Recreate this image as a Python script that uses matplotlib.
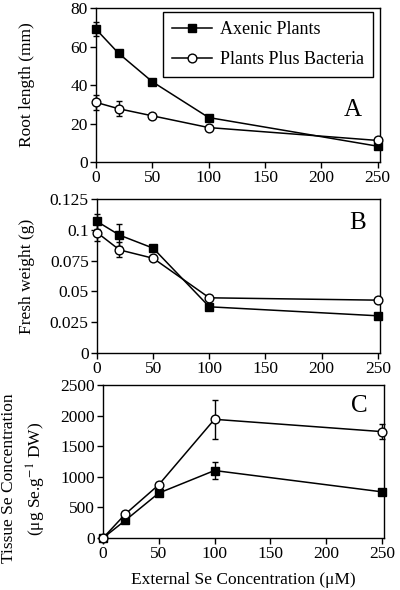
import matplotlib
matplotlib.use("Agg")
from matplotlib import pyplot as plt
from matplotlib.lines import Line2D
from matplotlib.ticker import FuncFormatter

plt.rcParams['font.family'] = ['Liberation Serif', 'DejaVu Serif']
plt.rcParams['mathtext.fontset'] = 'stix'

# external Se concentration (uM)
conc = [0, 20, 50, 100, 250]

# panel A: root length (mm)
root_axenic = [69, 56.5, 41.7, 23.1, 8.2]
root_axenic_err = [3.7, 0, 0, 0, 0]
root_bact = [31, 27.7, 24, 17.9, 11.2]
root_bact_err = [4, 4, 0, 0, 0]

# panel B: fresh weight (g)
fw_axenic = [0.1068, 0.0957, 0.0851, 0.0375, 0.0302]
fw_axenic_err = [0.006, 0.009, 0, 0, 0]
fw_bact = [0.0978, 0.0837, 0.0769, 0.0448, 0.0429]
fw_bact_err = [0.007, 0.006, 0, 0, 0]

# panel C: tissue Se concentration (ug Se/g DW)
se_axenic = [0, 288, 734, 1103, 755]
se_axenic_err = [0, 0, 0, 140, 0]
se_bact = [0, 391, 870, 1940, 1739]
se_bact_err = [0, 0, 0, 320, 120]

xticks = [0, 50, 100, 150, 200, 250]
FS = 12.5


def panel(ax, ya, ea, yb, eb, ylim, yticks, letter, letter_pos):
    ax.errorbar(conc, ya, yerr=ea, color='black', marker='s', markersize=6.3,
                markerfacecolor='black', linewidth=1.1, elinewidth=1, capsize=2.5,
                clip_on=False, zorder=3)
    ax.errorbar(conc, yb, yerr=eb, color='black', marker='o', markersize=6.3,
                markerfacecolor='white', linewidth=1.1, elinewidth=1, capsize=2.5,
                clip_on=False, zorder=4)
    ax.set_xlim(0, 252)
    ax.set_ylim(*ylim)
    ax.set_xticks(xticks)
    ax.set_yticks(yticks)
    ax.yaxis.set_major_formatter(FuncFormatter(lambda v, p: '%g' % v))
    ax.tick_params(direction='out', length=4, width=1, labelsize=FS, pad=2)
    for s in ax.spines.values():
        s.set_linewidth(1)
    ax.text(letter_pos[0], letter_pos[1], letter, fontsize=18, ha='center', va='center')


fig = plt.figure(figsize=(4, 5.9), dpi=100)

ax1 = fig.add_axes([0.24, 0.7254, 0.71, 0.261])
panel(ax1, root_axenic, root_axenic_err, root_bact, root_bact_err,
      (0, 80), [0, 20, 40, 60, 80], 'A', (228, 27))
ax1.set_ylabel('Root length (mm)', fontsize=FS)
ax1.yaxis.set_label_coords(-0.215, 0.5)
handles = [
    Line2D([], [], color='black', marker='s', markersize=6.3, linewidth=1.1,
           markerfacecolor='black'),
    Line2D([], [], color='black', marker='o', markersize=6.3, linewidth=1.1,
           markerfacecolor='white'),
]
leg = ax1.legend(handles, ['Axenic Plants', 'Plants Plus Bacteria'],
                 loc='upper right', bbox_to_anchor=(0.975, 0.974), borderaxespad=0,
                 fancybox=False, edgecolor='black', framealpha=1, fontsize=13,
                 handlelength=2.2, handletextpad=0.45, borderpad=0.5,
                 labelspacing=0.72)
leg.get_frame().set_linewidth(1)

ax2 = fig.add_axes([0.2425, 0.4017, 0.7075, 0.261])
panel(ax2, fw_axenic, fw_axenic_err, fw_bact, fw_bact_err,
      (0, 0.125), [0, 0.025, 0.05, 0.075, 0.1, 0.125], 'B', (232, 0.1055))
ax2.set_ylabel('Fresh weight (g)', fontsize=FS)
ax2.yaxis.set_label_coords(-0.22, 0.5)

ax3 = fig.add_axes([0.2575, 0.0881, 0.7025, 0.2593])
panel(ax3, se_axenic, se_axenic_err, se_bact, se_bact_err,
      (0, 2500), [0, 500, 1000, 1500, 2000, 2500], 'C', (230, 2157))
ax3.set_ylabel('Tissue Se Concentration\n(μg Se.g$^{-1}$ DW)', fontsize=FS,
               linespacing=1.5)
ax3.yaxis.set_label_coords(-0.195, 0.39)
ax3.set_xlabel('External Se Concentration (μM)', fontsize=FS, labelpad=7)

fig.savefig('out.png', dpi=100)
